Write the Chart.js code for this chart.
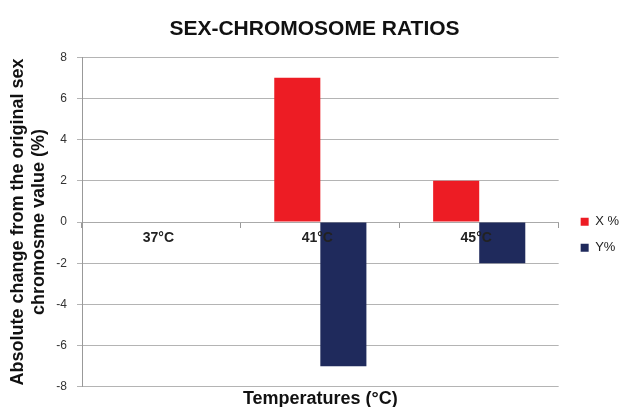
<!DOCTYPE html>
<html>
<head>
<meta charset="utf-8">
<script src="https://cdn.jsdelivr.net/npm/chart.js@4"></script>
<style>
html,body{margin:0;padding:0;background:#fff;}
#wrap{width:624px;height:407px;}
</style>
</head>
<body>
<div id="wrap"><canvas id="c" width="624" height="407"></canvas></div>
<script>
const categories = ["37°C", "41°C", "45°C"];
const xValues = [0, 7, 2];
const yValues = [0, -7, -2];
const seriesNames = ["X %", "Y%"];
const yTicks = [-8, -6, -4, -2, 0, 2, 4, 6, 8];

const FONT = "'Liberation Sans', Arial, sans-serif";

new Chart(document.getElementById('c'), {
  type: 'bar',
  data: {
    labels: categories,
    datasets: [
      {label: seriesNames[0], data: xValues, backgroundColor: '#ED1C24', xAxisID: 'x'},
      {label: seriesNames[1], data: yValues, backgroundColor: '#1F2A5C', xAxisID: 'x'}
    ]
  },
  options: {
    responsive: false,
    animation: false,
    devicePixelRatio: 1,
    layout: {padding: {left: 0, right: -5, top: 0, bottom: 0}},
    datasets: {bar: {categoryPercentage: 0.58, barPercentage: 1}},
    plugins: {
      title: {
        display: true,
        text: 'SEX-CHROMOSOME RATIOS',
        color: '#111',
        font: {family: FONT, size: 21, weight: 'bold'},
        padding: {top: 17, bottom: 15}
      },
      legend: {
        position: 'right',
        title: {display: true, text: ' ', font: {size: 12}, padding: {top: 0, bottom: 48}},
        labels: {
          boxWidth: 8, boxHeight: 8, padding: 13,
          color: '#222',
          font: {family: FONT, size: 13}
        }
      },
      tooltip: {enabled: false}
    },
    scales: {
      x: {
        type: 'category',
        position: {y: 0},
        offset: true,
        grid: {display: true, drawOnChartArea: false, offset: true, tickLength: 5, color: '#999'},
        border: {display: true, color: '#aaa'},
        ticks: {z: 1, color: '#222', font: {family: FONT, size: 14, weight: 'bold'}, padding: 3, labelOffset: -3}
      },
      x2: {
        type: 'category',
        position: 'bottom',
        grid: {display: false, drawTicks: false, tickLength: 0},
        border: {display: false},
        ticks: {display: false},
        title: {
          display: true,
          text: 'Temperatures (°C)',
          color: '#111',
          font: {family: FONT, size: 18, weight: 'bold', lineHeight: 0.9},
          padding: {top: 4, bottom: 0}
        }
      },
      y: {
        min: -8, max: 8,
        afterBuildTicks: (s) => { s.ticks = yTicks.map(v => ({value: v})); },
        grid: {color: '#b4b4b4', tickLength: 5},
        border: {display: true, color: '#999'},
        ticks: {color: '#333', font: {family: FONT, size: 12}, padding: 10},
        title: {
          display: true,
          text: ['Absolute change from the original sex', 'chromosme value (%)'],
          color: '#111',
          font: {family: FONT, size: 18, weight: 'bold'},
          padding: {top: 7, bottom: 0}
        },
        afterFit: (s) => { s.width = 82; }
      },
      yR: {
        type: 'linear',
        position: 'right',
        display: true,
        grid: {display: false, drawTicks: false},
        border: {display: false},
        ticks: {display: false},
        afterFit: (s) => { s.width = 9; }
      }
    }
  }
});
</script>
</body>
</html>
